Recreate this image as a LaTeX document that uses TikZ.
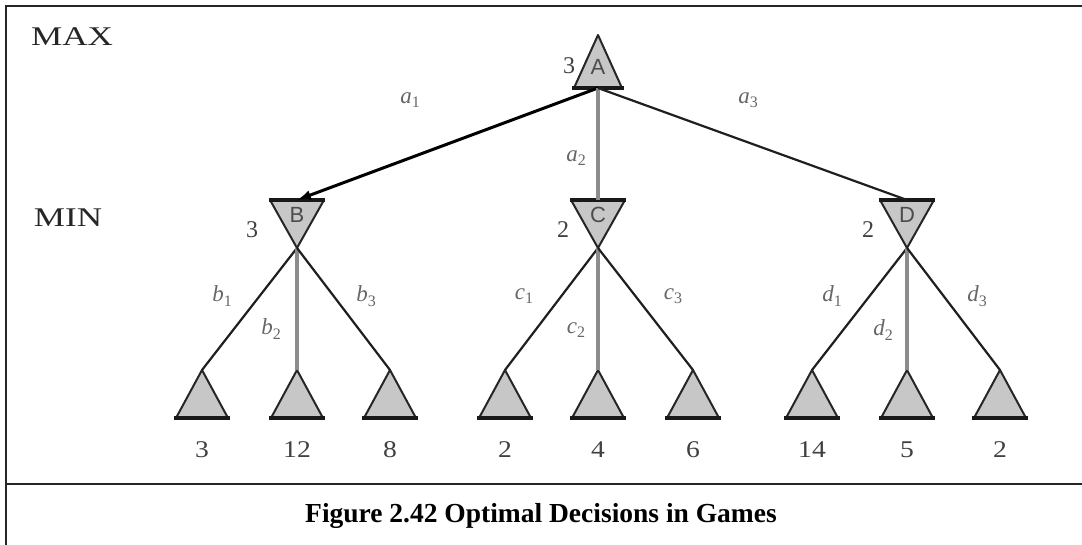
\documentclass[tikz,border=0pt]{standalone}
\usepackage{fontspec}
\setmainfont{Liberation Serif}
\setsansfont{Liberation Sans}
\begin{document}
\begin{tikzpicture}[x=1pt,y=-1pt,
  frame/.style={line width=2pt,draw=black!85},
  trifill/.style={fill=black!22},
  triside/.style={draw=black!85,line width=2pt,line join=round},
  tribase/.style={draw=black!90,line width=3.5pt},
  lbl/.style={text=black!75,font=\fontsize{24}{24}\selectfont,inner sep=0pt},
  nname/.style={text=black!70,font=\sffamily\fontsize{22}{22}\selectfont,inner sep=0pt},
  ttl/.style={text=black!85,font=\fontsize{27}{27}\selectfont,inner sep=0pt},
  elbl/.style={text=black!60,font=\fontsize{23}{23}\selectfont\itshape,inner sep=0pt},
  thinedge/.style={draw=black!88,line width=2.2pt},
  grayedge/.style={draw=black!45,line width=4.5pt},
  bestedge/.style={draw=black,line width=3pt,-{Latex[length=14pt,width=10pt]}},
  maxtri/.pic={
    \fill[trifill] (-24,26) -- (0,-27) -- (24,26) -- cycle;
    \draw[triside] (-24,26) -- (0,-27) -- (24,26);
    \draw[tribase] (-26,26) -- (26,26);
    \coordinate (-apex) at (0,-27);
    \coordinate (-base) at (0,26);
  },
  mintri/.pic={
    \fill[trifill] (-27,-24) -- (0,24) -- (27,-24) -- cycle;
    \draw[triside] (-27,-24) -- (0,24) -- (27,-24);
    \draw[tribase] (-28,-24) -- (28,-24);
    \coordinate (-top) at (0,-24);
    \coordinate (-bot) at (0,24);
  },
  leaf/.pic={
    \fill[trifill] (-26,48) -- (0,0) -- (26,48) -- cycle;
    \draw[triside] (-26,48) -- (0,0) -- (26,48);
    \draw[tribase] (-28,48) -- (28,48);
    \coordinate (-apex) at (0,0);
  }
]
\usetikzlibrary{arrows.meta}
\newcommand{\sbs}[1]{\raisebox{-0.4ex}{\fontsize{16}{16}\selectfont\upshape #1}}
\useasboundingbox (0,0) rectangle (1082,544);
% frame
\draw[frame] (6,546) -- (6,6) -- (1084,6);
\draw[frame] (6,484) -- (1084,484);

% row labels
\node[ttl] (max) at (72,37) {\scalebox{1.3}[1]{MAX}};
\node[ttl] (min) at (68,218) {\scalebox{1.3}[1]{MIN}};

% nodes
\pic (A) at (598,62) {maxtri};
\node[nname] (Aname) at (598,67) {A};
\pic (B) at (297,224) {mintri};
\node[nname] (Bname) at (297,215) {B};
\pic (C) at (598,224) {mintri};
\node[nname] (Cname) at (598,215) {C};
\pic (D) at (907,224) {mintri};
\node[nname] (Dname) at (907,215) {D};

% values
\node[lbl] (vA) at (569,66) {3};
\node[lbl] (vB) at (252,230) {3};
\node[lbl] (vC) at (563,230) {2};
\node[lbl] (vD) at (868,230) {2};

% leaves
\foreach \n/\x/\v in {b1/202/3,b2/297/12,b3/390/8,c1/505/2,c2/598/4,c3/693/6,d1/812/14,d2/907/5,d3/1000/2}{
  \pic (\n) at (\x,370) {leaf};
  \node[lbl] (v\n) at (\x,450) {\scalebox{1.15}[1]{\v}};
}

% edges from A
\draw[bestedge] (A-base) -- (B-top);
\draw[grayedge] (A-base) -- (C-top);
\draw[thinedge] (A-base) -- (D-top);
% edges to leaves
\draw[thinedge] (B-bot) -- (b1-apex);
\draw[grayedge] (B-bot) -- (b2-apex);
\draw[thinedge] (B-bot) -- (b3-apex);
\draw[thinedge] (C-bot) -- (c1-apex);
\draw[grayedge] (C-bot) -- (c2-apex);
\draw[thinedge] (C-bot) -- (c3-apex);
\draw[thinedge] (D-bot) -- (d1-apex);
\draw[grayedge] (D-bot) -- (d2-apex);
\draw[thinedge] (D-bot) -- (d3-apex);

% edge labels
\node[elbl] (la1) at (410,100) {a\sbs{1}};
\node[elbl] (la2) at (576,158) {a\sbs{2}};
\node[elbl] (la3) at (748,100) {a\sbs{3}};
\node[elbl] (lb1) at (222,296) {b\sbs{1}};
\node[elbl] (lb2) at (271,329) {b\sbs{2}};
\node[elbl] (lb3) at (366,296) {b\sbs{3}};
\node[elbl] (lc1) at (524,296) {c\sbs{1}};
\node[elbl] (lc2) at (576,330) {c\sbs{2}};
\node[elbl] (lc3) at (673,296) {c\sbs{3}};
\node[elbl] (ld1) at (832,296) {d\sbs{1}};
\node[elbl] (ld2) at (883,330) {d\sbs{2}};
\node[elbl] (ld3) at (977,296) {d\sbs{3}};

% caption
\node[font=\fontsize{27.5}{27.5}\selectfont\bfseries,inner sep=0pt] (cap) at (541,516) {Figure 2.42 Optimal Decisions in Games};
\end{tikzpicture}
\end{document}
